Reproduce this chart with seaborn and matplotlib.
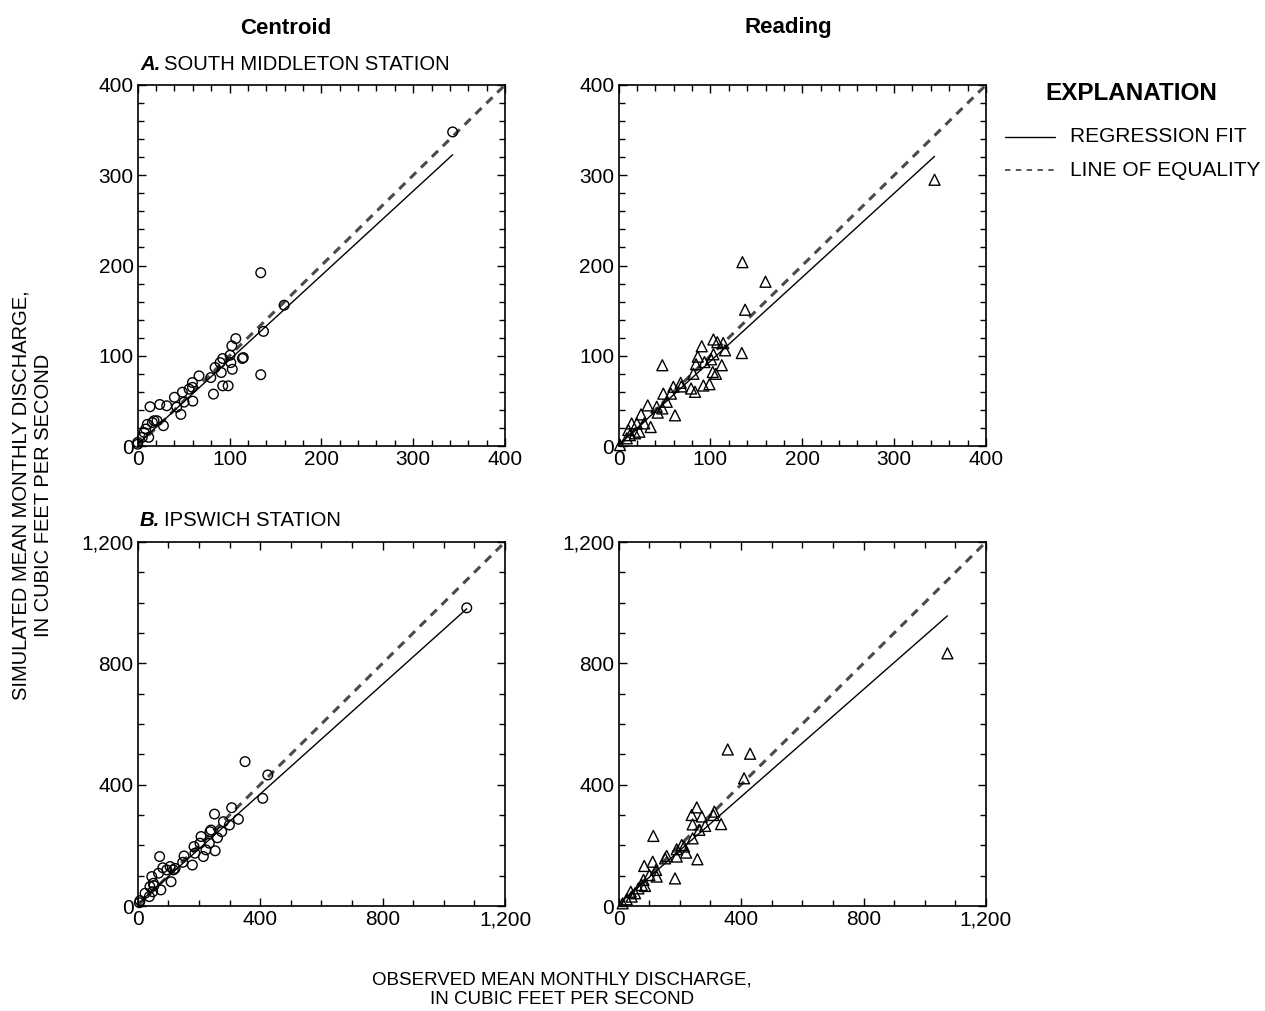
import numpy as np
import pandas as pd
import matplotlib
matplotlib.use("Agg")
import matplotlib.pyplot as plt
from matplotlib.ticker import MultipleLocator, FixedLocator
from matplotlib.lines import Line2D
import seaborn as sns

sns.set_theme(style="white")
plt.rcParams['font.family'] = ['Liberation Sans', 'DejaVu Sans']
plt.rcParams['text.color'] = 'black'
plt.rcParams['axes.labelcolor'] = 'black'
plt.rcParams['xtick.color'] = 'black'
plt.rcParams['ytick.color'] = 'black'

# ---------------- data ----------------
# A. South Middleton station, Centroid
smc_obs = [0, 0, 5, 7, 8.7, 10.5, 12, 16, 17.8, 21, 28, 13.4, 24, 31.6, 40, 42.5, 47, 48.7,
           50.5, 56, 59.6, 59.6, 60, 66.8, 79.6, 82.5, 84.3, 89.7, 91, 92.6, 92.6, 98.5,
           100.6, 101.4, 103, 102.5, 106.8, 114, 115, 134, 134, 137, 159.5, 343]
smc_sim = [2, 4, 9.6, 15, 18.8, 24, 9.6, 26, 28, 28, 22.5, 43.5, 46, 44.6, 54, 43, 35, 59.6,
           48.6, 63, 70.3, 65, 49.7, 77.7, 75.8, 57.5, 87, 92.4, 81.4, 96.9, 66.7, 66.7,
           100.6, 92.4, 85, 111, 119, 97, 98, 192, 79, 127, 156, 348]
# A. South Middleton station, Reading
smr_obs = [1.6, 9, 12.4, 10.7, 14.3, 18, 22.7, 20, 24.5, 28, 35, 31.8, 41.6, 42.7, 47.7,
           48.8, 47.7, 52.5, 57, 59.7, 61.5, 67.7, 68.4, 79, 83.3, 81.5, 84.4, 86.3, 90.6,
           92.4, 93.5, 99, 100.8, 102.6, 103.3, 103.3, 106, 107.6, 112.4, 114, 116, 134.9,
           134.2, 137.8, 160, 344]
smr_sim = [1, 8.5, 12, 17.7, 25, 14, 15.8, 25, 35, 25, 21, 45, 43.5, 37, 41.6,
           58, 89.5, 49, 58, 65.6, 34, 70, 66, 63.7, 60, 80, 90.6, 99, 110.5,
           67, 93, 68.5, 96, 82, 118, 101.6, 80, 115, 89.5, 114, 106, 203.7,
           103, 151, 182, 295]
# B. Ipswich station, Centroid
ipc_obs = [5.4, 7.6, 24, 38, 40, 46, 49, 51, 53, 68, 75.6, 71.7, 82, 95, 105.6, 109, 116.6,
           122, 147, 151.5, 178.6, 184, 187, 203.6, 207, 214.5, 223, 234, 236, 239.6, 253,
           251, 260.5, 274.5, 280, 299.6, 307, 329, 350.7, 408.5, 425, 1075]
ipc_sim = [11, 17.6, 42, 31, 64, 97, 47, 75, 67, 108, 53, 163, 126, 119, 130, 80, 119,
           124, 144, 165, 135, 196, 174, 207, 229, 163, 185, 207, 245, 250.5, 182,
           303, 225, 245, 278, 267, 324, 286, 476, 355, 432, 983]
# B. Ipswich station, Reading
ipr_obs = [13.6, 26.7, 43, 40, 54, 65, 76, 81.6, 86.6, 84, 101, 111.6, 113.8, 122.6, 124.7,
           152, 157.4, 184.6, 190, 190, 206.4, 214, 220.6, 242, 242, 239, 255.5, 257.6,
           264, 272, 283, 310, 313, 335, 356.6, 410, 429.7, 1074]
ipr_sim = [8.8, 22, 31, 47, 42, 58, 69, 86, 66, 132, 102, 146, 231, 119, 97,
           157, 165, 91, 187, 163, 201, 196, 176, 223, 269, 300, 325, 154,
           251, 295, 264, 300, 311, 270, 516, 421, 502, 833]

# regression fits: (slope, intercept)
smc_fit = (0.935, 2.0)
smr_fit = (0.93, 1.0)
ipc_fit = (0.905, 7.0)
ipr_fit = (0.885, 6.0)

col_titles = ["Centroid", "Reading"]
station_titles = ["SOUTH MIDDLETON STATION", "IPSWICH STATION"]
station_letters = ["A.", "B."]
top_ticks = [0, 100, 200, 300, 400]
top_ticklabels = ["0", "100", "200", "300", "400"]
bot_ticks = [0, 400, 800, 1200]
bot_ticklabels = ["0", "400", "800", "1,200"]
legend_labels = ["REGRESSION FIT", "LINE OF EQUALITY"]

# ---------------- figure ----------------
fig = plt.figure(figsize=(12.65, 10.11), dpi=100)
W, H = 1265, 1011

def axrect(x0, y0, x1, y1):
    return [x0 / W, 1 - y1 / H, (x1 - x0) / W, (y1 - y0) / H]

axes = {
    (0, 0): fig.add_axes(axrect(137.7, 85, 505, 446)),
    (0, 1): fig.add_axes(axrect(618.5, 85, 986, 446)),
    (1, 0): fig.add_axes(axrect(137.7, 542, 505, 906)),
    (1, 1): fig.add_axes(axrect(618.5, 542, 986, 906)),
}

panels = {
    (0, 0): (smc_obs, smc_sim, smc_fit, 'o'),
    (0, 1): (smr_obs, smr_sim, smr_fit, '^'),
    (1, 0): (ipc_obs, ipc_sim, ipc_fit, 'o'),
    (1, 1): (ipr_obs, ipr_sim, ipr_fit, '^'),
}

DASH_COLOR = "#4a4a4a"
FS = 15

for (r, c), ax in axes.items():
    obs, sim, fit, mk = panels[(r, c)]
    lim = 400 if r == 0 else 1200
    df = pd.DataFrame({"obs": obs, "sim": sim})
    # line of equality
    eq = pd.DataFrame({"x": [0, lim], "y": [0, lim]})
    sns.lineplot(data=eq, x="x", y="y", ax=ax, color=DASH_COLOR, lw=2.2,
                 linestyle=(0, (2.8, 2.2)), zorder=2)
    # regression fit
    xs = np.array([min(obs), max(obs)])
    reg = pd.DataFrame({"x": xs, "y": fit[0] * xs + fit[1]})
    sns.lineplot(data=reg, x="x", y="y", ax=ax, color="black", lw=1.0, zorder=3)
    # points
    sns.scatterplot(data=df, x="obs", y="sim", ax=ax, marker=mk, s=48 if mk == 'o' else 62,
                    facecolor="none", edgecolor="black", linewidth=1.0, zorder=4,
                    clip_on=False)
    ax.set_xlim(0, lim)
    ax.set_ylim(0, lim)
    ax.set_xlabel("")
    ax.set_ylabel("")
    if r == 0:
        ax.xaxis.set_major_locator(FixedLocator(top_ticks))
        ax.yaxis.set_major_locator(FixedLocator(top_ticks))
        ax.set_xticklabels(top_ticklabels)
        ax.set_yticklabels(top_ticklabels)
        ax.xaxis.set_minor_locator(MultipleLocator(20))
        ax.yaxis.set_minor_locator(MultipleLocator(20))
    else:
        ax.xaxis.set_major_locator(FixedLocator(bot_ticks))
        ax.yaxis.set_major_locator(FixedLocator(bot_ticks))
        ax.set_xticklabels(bot_ticklabels)
        ax.set_yticklabels(bot_ticklabels)
        ax.xaxis.set_minor_locator(MultipleLocator(100))
        ax.yaxis.set_minor_locator(MultipleLocator(100))
    ax.tick_params(which="both", direction="in", top=True, right=True,
                   bottom=True, left=True, color="black", width=1.0)
    ax.tick_params(which="major", length=6, labelsize=FS, pad=3, labelcolor="black")
    ax.tick_params(which="minor", length=4)
    for s in ax.spines.values():
        s.set_visible(True)
        s.set_color("black")
        s.set_linewidth(1.2)
    ax.set_facecolor("white")
    ax.grid(False)

# column titles
fig.text(286 / W, 1 - 28 / H, col_titles[0], ha="center", va="center",
         fontsize=16, fontweight="bold")
fig.text(788 / W, 1 - 28 / H, col_titles[1], ha="center", va="center",
         fontsize=16, fontweight="bold")

# station titles
for i, yy in enumerate([64, 521]):
    t = fig.text(140 / W, 1 - yy / H, station_letters[i], ha="left", va="center",
                 fontsize=14.6, fontweight="bold", fontstyle="italic")
    fig.canvas.draw()
    bb = t.get_window_extent()
    fig.text((bb.x1 + 4) / W, 1 - yy / H, station_titles[i], ha="left", va="center",
             fontsize=14.6)

# axis labels
fig.text(32 / W, 1 - 495 / H,
         "SIMULATED MEAN MONTHLY DISCHARGE,\nIN CUBIC FEET PER SECOND",
         rotation=90, ha="center", va="center", fontsize=14.5, linespacing=1.25)
fig.text(562 / W, 1 - 990 / H,
         "OBSERVED MEAN MONTHLY DISCHARGE,\nIN CUBIC FEET PER SECOND",
         ha="center", va="center", fontsize=13.5, linespacing=1.2)

# explanation
fig.text(1131 / W, 1 - 94 / H, "EXPLANATION", ha="center", va="center",
         fontsize=17.5, fontweight="bold")
fig.add_artist(Line2D([1005 / W, 1055 / W], [1 - 137 / H, 1 - 137 / H],
                      color="black", lw=1.0, transform=fig.transFigure))
fig.add_artist(Line2D([1005 / W, 1055 / W], [1 - 170 / H, 1 - 170 / H],
                      color=DASH_COLOR, lw=1.3, linestyle=(0, (3, 3)),
                      transform=fig.transFigure))
fig.text(1070 / W, 1 - 137 / H, legend_labels[0], ha="left", va="center", fontsize=FS)
fig.text(1070 / W, 1 - 170 / H, legend_labels[1], ha="left", va="center", fontsize=FS)

fig.savefig("out.png", dpi=100, facecolor="white")
